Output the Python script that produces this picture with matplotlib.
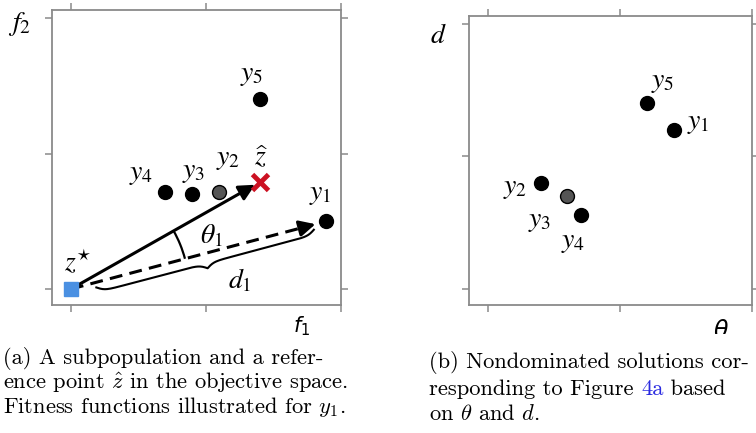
import numpy as np
import matplotlib
matplotlib.use("Agg")
import matplotlib.pyplot as plt
from matplotlib.patches import Arc
from matplotlib.transforms import IdentityTransform, Bbox

# ---------------- data ----------------
left_labels = ["y_1", "y_2", "y_3", "y_4", "y_5"]
left_f1 = [1.89, 1.10, 0.90, 0.70, 1.40]
left_f2 = [0.50, 0.716, 0.70, 0.716, 1.40]
left_fill = ["black", "#555555", "black", "black", "black"]
ideal_point = (0.0, 0.0)
ref_point = (1.40, 0.79)

right_labels = ["y_1", "y_2", "y_3", "y_4", "y_5"]
right_theta = [1.408, 0.403, 0.602, 0.703, 1.206]
right_d = [1.20, 0.80, 0.70, 0.557, 1.399]
right_fill = ["black", "black", "#555555", "black", "black"]

ticks = [0, 1, 2]

# label offsets (pixels, +x right, +y down)
left_offsets = {"y_1": (-6, -28), "y_2": (9, -34), "y_3": (1, -23),
                "y_4": (-24, -19), "y_5": (-8, -25)}
right_offsets = {"y_1": (24, -8), "y_2": (-26, 4), "y_3": (-28, 24),
                 "y_4": (-8, 26), "y_5": (16, -22)}

W, H, DPI = 756, 433, 100
fig = plt.figure(figsize=(W / DPI, H / DPI), dpi=DPI)

spine_col = "#8a8a8a"
lab_fs = 20


def px_axes(x0, y0, x1, y1):
    return fig.add_axes([x0 / W, 1 - y1 / H, (x1 - x0) / W, (y1 - y0) / H])


def style(ax):
    for s in ax.spines.values():
        s.set_color(spine_col)
        s.set_linewidth(1.3)
    ax.set_xticks(ticks)
    ax.set_yticks(ticks)
    ax.tick_params(direction="out", length=5, width=1.1, color=spine_col,
                   top=True, right=True, labelbottom=False, labelleft=False)


def lab(ax, txt, xy, off, fs=lab_fs, mf="stix"):
    ax.annotate(txt, xy=xy, xytext=(off[0] * 0.72, -off[1] * 0.72),
                textcoords="offset points", ha="center", va="center",
                fontsize=fs, math_fontfamily=mf, annotation_clip=False)


# ---------------- left panel ----------------
axL = px_axes(52, 10, 341, 305)
axL.set_xlim(-0.14, 1.985)
axL.set_ylim(-0.118, 2.06)
style(axL)

# arrows
axL.annotate("", xy=ref_point, xytext=ideal_point,
             arrowprops=dict(arrowstyle="-|>", lw=2.2, color="black",
                             mutation_scale=24, shrinkA=0, shrinkB=4))
y1 = (left_f1[0], left_f2[0])
axL.plot([ideal_point[0], y1[0] * 0.93], [ideal_point[1], y1[1] * 0.93],
         color="black", lw=2.2, ls=(0, (4.2, 2.4)), zorder=2)
axL.annotate("", xy=y1, xytext=(y1[0] * 0.9, y1[1] * 0.9),
             arrowprops=dict(arrowstyle="-|>", lw=2.2, color="black",
                             mutation_scale=24, shrinkA=0, shrinkB=8))

for lbl, x, y, c in zip(left_labels, left_f1, left_f2, left_fill):
    axL.plot(x, y, "o", ms=10, mfc=c, mec="black", mew=1, zorder=4)
    lab(axL, "$" + lbl + "$", (x, y), left_offsets[lbl])

axL.plot(*ideal_point, "s", ms=9.5, color="#4a90e2", zorder=5)
axL.plot(*ref_point, "x", ms=11, mew=3.5, color="#cc1122", zorder=5)
lab(axL, r"$\widehat{z}$", ref_point, (1, -25))
lab(axL, r"$z^{\star}$", ideal_point, (7, -26))
lab(axL, r"$\theta_1$", ideal_point, (141, -54))
lab(axL, r"$d_1$", ideal_point, (169, -9))

# angle arc + brace in display space
c0 = axL.transData.transform(ideal_point)
cr = axL.transData.transform(ref_point)
cy = axL.transData.transform(y1)
a_ref = np.degrees(np.arctan2(*(cr - c0)[::-1]))
a_y1 = np.degrees(np.arctan2(*(cy - c0)[::-1]))
r = 118
axL.add_patch(Arc(c0, 2 * r, 2 * r, theta1=a_y1, theta2=a_ref,
                  transform=IdentityTransform(), lw=1.6, color="black",
                  clip_on=False))

vec = cy - c0
L = np.hypot(*vec)
u = vec / L
n = np.array([u[1], -u[0]])
s0, s1 = 25, 250
t = np.linspace(0, 1, 201)
half = t[:101]
beta = 60
yh = 1 / (1 + np.exp(-beta * (half - half[0]))) + 1 / (1 + np.exp(-beta * (half - half[-1])))
yb = np.concatenate([yh, yh[-2::-1]]) - 0.5
along = s0 + (s1 - s0) * t
perp = 5 + 10 * yb
pts = c0 + np.outer(along, u) + np.outer(perp, n)
axL.plot(pts[:, 0], pts[:, 1], color="black", lw=1.5,
         transform=IdentityTransform(), clip_on=False)

# ---------------- right panel ----------------
axR = px_axes(469, 15.7, 752.3, 305)
axR.set_xlim(-0.141, 2.0)
axR.set_ylim(-0.118, 2.06)
style(axR)
for lbl, x, y, c in zip(right_labels, right_theta, right_d, right_fill):
    axR.plot(x, y, "o", ms=10, mfc=c, mec="black", mew=1, zorder=4)
    lab(axR, "$" + lbl + "$", (x, y), right_offsets[lbl])

# axis names
fig.text(20 / W, 1 - 24 / H, "$f_2$", fontsize=lab_fs, math_fontfamily="stix",
         ha="center", va="center")
fig.text(438 / W, 1 - 35 / H, "$d$", fontsize=lab_fs, math_fontfamily="stix",
         ha="center", va="center")
fig.text(302 / W, 1 - 326 / H, "$f_1$", fontsize=15, math_fontfamily="dejavusans",
         ha="center", va="center")
th = fig.text(721 / W, 1 - 331 / H, r"$\theta$", fontsize=17,
              math_fontfamily="dejavusans", ha="center", va="center")
th.set_clip_box(Bbox([[0, H - 334], [W, H]]))
th.set_clip_on(True)

# ---------------- captions ----------------
cap_fs = 16.2
cap_kw = dict(fontsize=cap_fs, fontfamily="cmr10", math_fontfamily="cm",
              ha="left", va="center")
capA = ["(a) A subpopulation and a refer-",
        r"ence point $\hat{z}$ in the objective space.",
        r"Fitness functions illustrated for $y_1$."]
for line, yc in zip(capA, [358, 383, 407]):
    fig.text(3 / W, 1 - yc / H, line, **cap_kw)

fig.text(429 / W, 1 - 363 / H, "(b) Nondominated solutions cor-", **cap_kw)
renderer = fig.canvas.get_renderer()
t1 = fig.text(429 / W, 1 - 389 / H, "responding to Figure ", **cap_kw)
w1 = t1.get_window_extent(renderer).width
t2 = fig.text((429 + w1) / W, 1 - 389 / H, "4a", color="#2a2ae0", **cap_kw)
w2 = t2.get_window_extent(renderer).width
fig.text((429 + w1 + w2) / W, 1 - 389 / H, " based", **cap_kw)
fig.text(429 / W, 1 - 414 / H, r"on $\theta$ and $d$.", **cap_kw)

fig.savefig("out.png", dpi=DPI)
